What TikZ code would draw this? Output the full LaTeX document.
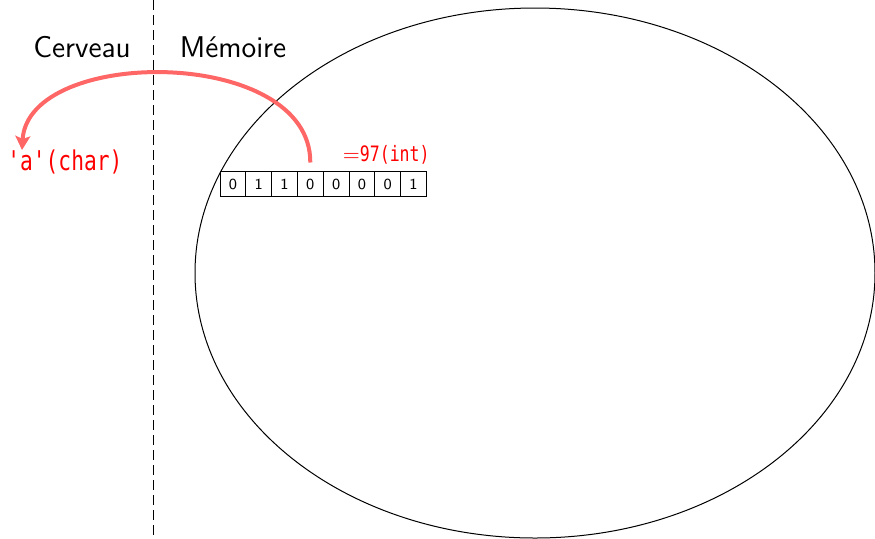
\documentclass[tikz,border=0pt]{standalone}
\usepackage{fontspec}
\newfontfamily\codefont[FakeStretch=0.78]{DejaVu Sans Mono}
\usetikzlibrary{arrows.meta}
\tikzset{
  bitcell/.style={draw, line width=0.5pt, minimum width=12.9pt, minimum height=12.5pt,
    inner sep=0pt, outer sep=0pt, font=\sffamily\fontsize{7.7}{9}\selectfont, anchor=west},
  title/.style={font=\sffamily\fontsize{15}{18}\selectfont},
  redlabel/.style={text=red},
  readarrow/.style={draw=red!60, line width=2pt, -{Stealth[length=7pt, width=7.5pt, inset=1.5pt]}}
}
\begin{document}
\begin{tikzpicture}[x=0.5pt, y=-0.5pt]
  \useasboundingbox (0,0) rectangle (875,538);
  % memory region
  \draw[line width=0.5pt] (535,273) ellipse [x radius=170pt, y radius=132.5pt];
  % separator between brain and memory
  \draw[dashed, dash pattern=on 5pt off 2.5pt, line width=0.5pt] (153,0) -- (153,538);
  \node[title] (brain) at (82,47) {Cerveau};
  \node[title] (mem) at (233,47) {Mémoire};
  % the stored byte
  \node[bitcell] (b1) at (220,184) {0};
  \node[bitcell] (b2) at (b1.east) {1};
  \node[bitcell] (b3) at (b2.east) {1};
  \node[bitcell] (b4) at (b3.east) {0};
  \node[bitcell] (b5) at (b4.east) {0};
  \node[bitcell] (b6) at (b5.east) {0};
  \node[bitcell] (b7) at (b6.east) {0};
  \node[bitcell] (b8) at (b7.east) {1};
  \node[redlabel, anchor=south east, inner sep=1pt, font=\fontsize{10.6}{12}\selectfont]
    (val) at (432,167) {$=${\codefont 97(int)}};
  \node[redlabel, anchor=west, inner sep=0pt, font=\codefont\fontsize{13.6}{16}\selectfont]
    (chr) at (7,162) {'a'(char)};
  \coordinate (src) at ([yshift=4.5pt]b4.north);
  \coordinate (dst) at (22,150);
  \draw[readarrow] (src) .. controls (311,46) and (28,46) .. (dst);
\end{tikzpicture}
\end{document}
